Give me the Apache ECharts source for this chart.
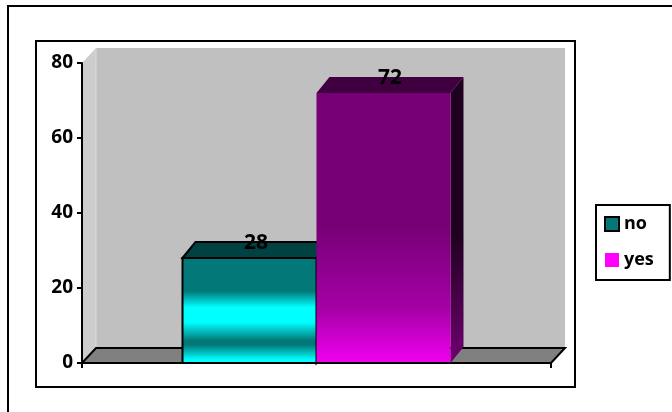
<!DOCTYPE html>
<html>
<head>
<meta charset="utf-8">
<script src="https://cdn.jsdelivr.net/npm/echarts@6/dist/echarts.min.js"></script>
<style>
html,body{margin:0;padding:0;background:#fff;}
#chart{width:672px;height:412px;}
</style>
</head>
<body>
<div id="chart"></div>
<script>
// ---- data ----
const categories = [''];
const seriesNames = ['no', 'yes'];
const noValues = [28];
const yesValues = [72];
const yTicks = [0, 20, 40, 60, 80];

// ---- style constants ----
const FONT = '"Open Sans", "Liberation Sans", sans-serif';
const WALL_DX = 14, WALL_DY = 15;
const BAR_DX = 13, BAR_DY = 16;
const BAR_FRAC = 134 / 469;

const G = echarts.graphic;
const tealFront = new G.LinearGradient(0, 0, 0, 1, [
  {offset: 0, color: '#037878'}, {offset: 0.32, color: '#037878'},
  {offset: 0.47, color: '#00ffff'}, {offset: 0.61, color: '#00ffff'},
  {offset: 0.78, color: '#037878'}, {offset: 0.82, color: '#037878'},
  {offset: 0.96, color: '#00ffff'}, {offset: 1, color: '#00ffff'}
]);
const purpleFront = new G.LinearGradient(0, 0, 0, 1, [
  {offset: 0, color: '#770077'}, {offset: 0.5, color: '#770077'},
  {offset: 0.8, color: '#a600a6'}, {offset: 1, color: '#f000f0'}
]);
const purpleSide = new G.LinearGradient(0, 0, 0, 1, [
  {offset: 0, color: '#200020'}, {offset: 0.55, color: '#200020'},
  {offset: 1, color: '#700070'}
]);
const styles = [
  {front: tealFront, top: '#004242', side: '#003030', stroke: '#000', lw: 2},
  {front: purpleFront, top: '#400040', side: purpleSide, stroke: null, lw: 0}
];

function makeBarRender(idx) {
  return function (params, api) {
    const cat = api.value(0), val = api.value(1);
    const base = api.coord([cat, 0]);
    const topP = api.coord([cat, val]);
    const band = api.size([1, 0])[0];
    const w = band * BAR_FRAC;
    const x0 = base[0] - w + idx * w;
    const yt = topP[1], yb = base[1];
    const s = styles[idx];
    const strokeStyle = s.stroke ? {stroke: s.stroke, lineWidth: s.lw, lineJoin: 'miter'} : {};
    return {
      type: 'group',
      children: [
        {type: 'polygon', shape: {points: [[x0 + w, yt], [x0 + w + BAR_DX, yt - BAR_DY], [x0 + w + BAR_DX, yb - BAR_DY], [x0 + w, yb]]},
          style: Object.assign({fill: s.side}, strokeStyle)},
        {type: 'rect', shape: {x: x0, y: yt, width: w, height: yb - yt},
          style: Object.assign({fill: s.front}, strokeStyle)},
        {type: 'polygon', shape: {points: [[x0, yt], [x0 + BAR_DX, yt - BAR_DY], [x0 + w + BAR_DX, yt - BAR_DY], [x0 + w, yt]]},
          style: Object.assign({fill: s.top}, strokeStyle)},
        {type: 'text', z2: 10, style: {text: String(val), x: x0 + w / 2 + BAR_DX / 2, y: yt - BAR_DY + 1,
          align: 'center', verticalAlign: 'middle', fontFamily: FONT, fontSize: 21, fontWeight: 'bold', fill: '#000'}}
      ]
    };
  };
}

function backdropRender(params, api) {
  const c = params.coordSys;
  const gx = c.x, gy = c.y, gw = c.width, gh = c.height;
  const fy = gy + gh;
  return {
    type: 'group',
    children: [
      {type: 'rect', shape: {x: gx + WALL_DX, y: gy - WALL_DY, width: gw, height: gh}, style: {fill: '#c0c0c0'}},
      {type: 'polygon', shape: {points: [[gx, fy], [gx, gy], [gx + WALL_DX, gy - WALL_DY], [gx + WALL_DX, fy - WALL_DY]]}, style: {fill: '#cdcdcd'}},
      {type: 'line', shape: {x1: gx + WALL_DX, y1: gy - WALL_DY, x2: gx + WALL_DX, y2: fy - WALL_DY}, style: {stroke: '#dadada', lineWidth: 1}},
      {type: 'polygon', shape: {points: [[gx, fy], [gx + WALL_DX, fy - WALL_DY], [gx + gw + WALL_DX, fy - WALL_DY], [gx + gw, fy]]},
        style: {fill: '#808080', stroke: '#000', lineWidth: 2}}
    ]
  };
}

const chart = echarts.init(document.getElementById('chart'), null, {renderer: 'canvas'});
chart.setOption({
  animation: false,
  backgroundColor: '#ffffff',
  graphic: [
    {type: 'rect', shape: {x: 8, y: 6, width: 700, height: 450}, style: {fill: 'none', stroke: '#000', lineWidth: 2}, z: 0},
    {type: 'rect', shape: {x: 36, y: 41, width: 539, height: 346}, style: {fill: 'none', stroke: '#000', lineWidth: 2}, z: 0}
  ],
  grid: {left: 82, top: 63, width: 469, height: 300, containLabel: false},
  legend: {
    left: 596, top: 205, orient: 'vertical',
    data: [
      {name: 'no', icon: 'rect', itemStyle: {color: '#037878', borderColor: '#000', borderWidth: 2}},
      {name: 'yes', icon: 'rect', itemStyle: {color: '#ff00ff', borderWidth: 0}}
    ],
    itemWidth: 14, itemHeight: 14, itemGap: 18,
    padding: [10, 16, 11, 8],
    borderColor: '#000', borderWidth: 2,
    textStyle: {fontFamily: FONT, fontSize: 18, fontWeight: 'bold', color: '#000'},
    selectedMode: false
  },
  xAxis: {
    type: 'category', data: categories, boundaryGap: true, z: 10,
    axisLine: {lineStyle: {color: '#000', width: 2}},
    axisTick: {show: true, length: 5, lineStyle: {color: '#000', width: 2}},
    axisLabel: {show: false},
    splitLine: {show: false}
  },
  yAxis: {
    type: 'value', min: yTicks[0], max: yTicks[yTicks.length - 1], interval: yTicks[1] - yTicks[0], z: 10,
    axisLine: {show: true, lineStyle: {color: '#000', width: 2}},
    axisTick: {show: true, length: 5, lineStyle: {color: '#000', width: 2}},
    axisLabel: {margin: 9, color: '#000', fontFamily: FONT, fontSize: 19, fontWeight: 'bold'},
    splitLine: {show: false}
  },
  series: [
    {type: 'custom', name: '__backdrop', silent: true, z: 1, renderItem: backdropRender, data: [[0, 0]]},
    {type: 'custom', name: seriesNames[0], z: 2, renderItem: makeBarRender(0),
      itemStyle: {color: '#037878', borderColor: '#000', borderWidth: 2},
      data: noValues.map((v, i) => [i, v])},
    {type: 'custom', name: seriesNames[1], z: 2, renderItem: makeBarRender(1),
      itemStyle: {color: '#ff00ff'},
      data: yesValues.map((v, i) => [i, v])}
  ]
});
</script>
</body>
</html>
